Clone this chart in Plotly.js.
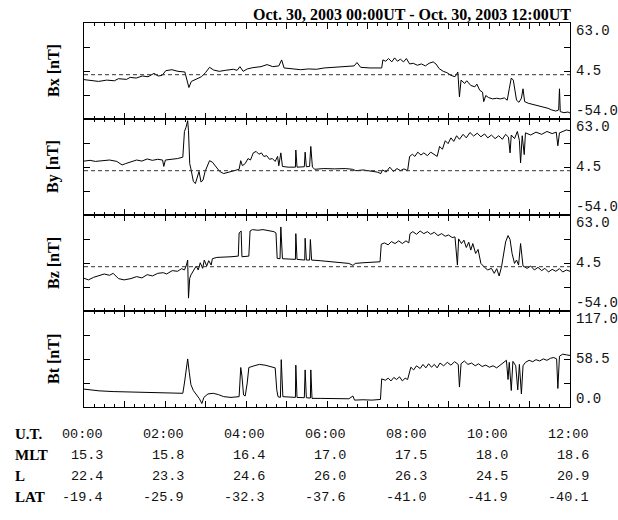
<!DOCTYPE html>
<html>
<head>
<meta charset="utf-8">
<script src="https://cdn.plot.ly/plotly-3.0.1.min.js"></script>
<style>html,body{margin:0;padding:0;background:#fff;}#chart{width:618px;height:520px;}</style>
</head>
<body>
<div id="chart"></div>
<script>
// ---- data (hours since 00:00 UT, nT) ----
const bxTime = [0.00,0.17,0.36,0.56,0.75,0.85,1.05,1.14,1.29,1.44,1.58,1.73,1.83,1.93,2.02,2.17,2.32,2.49,2.54,2.59,2.65,2.76,2.90,3.00,3.10,3.20,3.34,3.49,3.69,3.78,3.85,3.93,4.03,4.17,4.37,4.52,4.66,4.81,4.88,4.94,5.15,5.35,5.54,5.74,5.93,6.18,6.42,6.67,6.74,6.83,7.06,7.35,7.38,7.45,7.52,7.60,7.67,7.74,7.81,7.89,7.96,8.04,8.13,8.23,8.33,8.43,8.52,8.62,8.69,8.77,8.87,8.96,9.06,9.16,9.23,9.27,9.31,9.40,9.45,9.55,9.65,9.70,9.77,9.84,9.87,9.92,9.99,10.09,10.19,10.28,10.38,10.45,10.50,10.55,10.60,10.65,10.68,10.74,10.80,10.84,10.88,10.97,11.07,11.16,11.26,11.36,11.46,11.55,11.65,11.72,11.74,11.76,11.85,11.95,12.00];
const bxValue = [-6,-7.4,-8.2,-6.6,-7.4,-4.9,-5.7,-3.3,-4.1,-1.6,-2.5,1.6,-1.6,-0.8,4.9,6.1,4.1,3.3,-8.2,-15.6,-8.2,-5.7,-2.5,2.5,9,5.7,4.1,5.3,6.6,5.3,9.8,4.1,7,8.6,9.8,12.3,9.8,10.7,18,8.2,7,6.1,7,6.6,8.2,9,9.4,10.7,14.8,9,8.2,8.2,18,16.4,19.7,15.6,20.5,16.4,18.9,15.6,19.7,13.1,13.9,11.5,13.1,10.7,13.9,15.6,13.1,7.4,4.1,2.5,-0.8,-2.5,3.3,-27,-6.6,-10.7,-7.4,-13.1,-14.8,-11.5,-18.9,-21.3,-32.8,-25.4,-27.9,-29.5,-28.7,-29.5,-28.3,-31.1,-17.2,-4.1,-6.6,-20.5,-31.1,-33.6,-28.7,-17.2,-32.8,-34.8,-36.1,-36.9,-38.1,-40.2,-41,-43,-44.3,-43,-17.2,-45,-46.3,-45.5,-46.7];

const byTime = [0.00,0.15,0.28,0.46,0.63,0.81,0.94,1.03,1.16,1.30,1.43,1.56,1.69,1.82,1.94,1.97,2.01,2.18,2.31,2.44,2.48,2.52,2.56,2.58,2.61,2.64,2.70,2.75,2.80,2.84,2.89,2.94,2.99,3.05,3.10,3.17,3.26,3.35,3.45,3.59,3.72,3.83,3.87,3.91,3.98,4.05,4.11,4.18,4.25,4.32,4.38,4.44,4.51,4.58,4.65,4.72,4.78,4.81,4.86,4.90,5.04,5.22,5.23,5.26,5.44,5.46,5.49,5.57,5.60,5.64,5.70,5.92,6.19,6.45,6.63,6.71,6.89,7.07,7.24,7.33,7.37,7.46,7.55,7.64,7.73,7.81,7.90,7.99,8.04,8.11,8.17,8.24,8.32,8.39,8.48,8.56,8.65,8.72,8.78,8.85,8.92,8.99,9.06,9.13,9.20,9.27,9.36,9.44,9.53,9.62,9.71,9.80,9.89,9.97,10.06,10.15,10.24,10.33,10.41,10.48,10.52,10.55,10.63,10.70,10.75,10.78,10.82,10.87,10.90,11.03,11.16,11.30,11.43,11.56,11.66,11.70,11.74,11.82,11.91,12.00];
const byValue = [11.7,12.6,11.3,12.2,13,11.3,7,8.7,10.4,13,11.7,14.3,12.6,13.9,13,5.2,13,13.9,14.8,16.5,47.8,53,60.9,48.7,8.7,2.2,-13,-15.7,-8.7,-0.9,-13.9,-11.3,-0.9,6.1,12.2,10.4,5.2,-0.9,-3.5,-1.3,0,1.7,12.2,6.1,8.7,14.8,13,21.7,23.5,20,21.7,17.4,18.3,13.9,14.8,11.3,17.4,6.1,21.7,5.2,4.3,4.3,25.2,4.3,4.8,22.6,4.8,5.2,29.6,4.3,1.7,2.6,2.2,2.6,1.7,0,0.9,0,-1.7,-3.5,0.9,-1.7,4.3,-0.9,2.6,0,2.2,0,17.4,20,17.4,22.6,19.1,21.7,18.3,22.6,20,17.4,29.6,26.1,36.5,33,40,35.7,42.6,38.3,44.3,40,46.5,42.2,45.7,41.3,44.8,40,43.5,39.1,42.6,38.3,44.3,40.9,21.7,43.5,39.1,47.8,37,9.6,42.6,19.6,46.1,43.5,47,44.3,47.8,45.2,47,30.4,46.1,47.8,49.6,48.7];

const bzTime = [0.00,0.11,0.24,0.37,0.50,0.63,0.72,0.85,0.99,1.16,1.30,1.43,1.56,1.69,1.82,1.96,2.04,2.18,2.31,2.41,2.48,2.53,2.56,2.58,2.61,2.64,2.70,2.77,2.82,2.87,2.93,2.97,3.03,3.08,3.14,3.17,3.28,3.45,3.63,3.81,3.83,3.88,3.90,4.07,4.10,4.16,4.29,4.42,4.56,4.69,4.74,4.77,4.84,4.86,4.90,5.22,5.23,5.26,5.45,5.46,5.49,5.57,5.59,5.62,5.83,6.10,6.36,6.54,6.64,6.70,6.89,7.11,7.31,7.34,7.42,7.51,7.59,7.68,7.77,7.86,7.95,8.02,8.05,8.12,8.21,8.30,8.39,8.48,8.56,8.65,8.74,8.83,8.92,9.00,9.09,9.16,9.22,9.25,9.32,9.38,9.44,9.50,9.55,9.60,9.67,9.73,9.80,9.89,9.97,10.06,10.13,10.19,10.25,10.31,10.36,10.41,10.47,10.52,10.57,10.63,10.68,10.73,10.78,10.84,10.94,11.03,11.12,11.21,11.30,11.38,11.47,11.56,11.65,11.74,11.82,11.91,12.00];
const bzValue = [-14.1,-16.1,-12.9,-11.3,-8.9,-10.5,-8.1,-14.5,-16.1,-14.5,-12.1,-13.7,-9.7,-11.3,-8.1,-7.3,-8.9,-4.8,-5.6,-2.4,-4,2,8.1,-38.3,-14.1,-10.1,-4.8,0.8,-4,4.8,-2,8.1,0.8,7.3,2,9.7,11.3,11.3,12.1,12.9,41.1,43.5,12.1,12.9,43.5,45.2,44.4,45.2,43.5,42.7,41.1,10.1,9.7,48.4,9.7,8.9,40.3,8.9,8.1,34.7,8.1,8.1,33.1,8.1,7.3,6,4.8,4,1.6,4,4.8,5.6,6,27.4,29,26.6,30.6,28.2,31.5,28.2,31.5,29,40.3,42.7,39.5,43.5,40.3,42.7,39.5,41.9,37.9,40.3,37.1,38.7,35.5,36.3,2,33.9,28.2,32.3,23.4,29.8,20.2,28.2,16.1,21,4,-0.8,-4,-2,-8.1,-2.4,-11.3,0,16.1,30.2,37.9,33.1,16.1,4,8.1,2,28.2,0.8,-2,0.8,-4,-0.8,-4.8,-2,-6.5,-3.2,-5.6,-2.4,-6.5,-4,-5.6];

const btTime = [0.00,0.11,0.37,0.72,1.16,1.60,2.04,2.44,2.48,2.53,2.56,2.60,2.64,2.70,2.79,2.85,2.91,2.96,3.06,3.19,3.32,3.45,3.63,3.83,3.87,3.90,3.94,3.98,4.03,4.07,4.20,4.33,4.47,4.60,4.72,4.76,4.79,4.85,4.87,4.91,5.22,5.23,5.26,5.44,5.46,5.49,5.59,5.60,5.63,5.83,6.19,6.54,6.64,6.68,6.89,7.11,7.32,7.35,7.44,7.51,7.58,7.65,7.72,7.79,7.86,7.93,7.99,8.07,8.14,8.21,8.30,8.37,8.44,8.51,8.58,8.65,8.72,8.79,8.88,8.97,9.06,9.15,9.24,9.27,9.31,9.39,9.48,9.57,9.66,9.74,9.83,9.92,10.01,10.10,10.19,10.27,10.36,10.43,10.47,10.50,10.55,10.59,10.66,10.71,10.75,10.80,10.84,10.90,10.99,11.08,11.16,11.25,11.34,11.43,11.52,11.60,11.67,11.70,11.74,11.82,11.91,12.00];
const btValue = [21.8,20.9,19.7,18.8,18.4,18,17.6,16.7,29.3,50.2,58.6,41.8,27.2,20.1,14.6,10,4.2,11.7,15.9,16.7,15.1,12.6,11.7,12.6,48.1,37.7,14.6,13.4,29.3,48.1,50.2,51.9,51,49.4,47.7,20.9,12.6,11.7,57.7,12.6,11.7,51,11.7,11.3,45.2,11.3,10.9,45.2,10.5,10.5,10,10,13.4,8.4,8.8,8.4,9.2,34.3,32.6,35.1,31.8,36,33.5,36.8,31.8,35.1,33.5,48.5,45.2,50.2,46.9,51.9,47.7,52.7,48.5,51.9,47.7,53.6,50.2,54.4,51,55.2,51.9,24.3,52.7,56.1,51.9,53.6,50.2,52.7,49.4,51,48.5,50.2,47.7,51,54.4,56.9,33.5,54.4,20.1,55.6,50.2,20.9,51.9,15.9,50.2,54.4,56.9,55.2,57.7,56.1,58.6,56.9,59.4,60.3,58.6,22.6,61.9,64.4,63.6,62.8];

// ---- labels ----
const panelTitles = ['Bx [nT]', 'By [nT]', 'Bz [nT]', 'Bt [nT]'];
const compTickLabels = ['63.0', '4.5', '-54.0'];
const totalTickLabels = ['117.0', '58.5', '0.0'];
const mainTitle = 'Oct. 30, 2003 00:00UT - Oct. 30, 2003 12:00UT';
const tableHours = [0, 2, 4, 6, 8, 10, 12];
const utLabels = ['00:00', '02:00', '04:00', '06:00', '08:00', '10:00', '12:00'];
const mltValues = ['15.3', '15.8', '16.4', '17.0', '17.5', '18.0', '18.6'];
const lValues = ['22.4', '23.3', '24.6', '26.0', '26.3', '24.5', '20.9'];
const latValues = ['-19.4', '-25.9', '-32.3', '-37.6', '-41.0', '-41.9', '-40.1'];
const rowNames = ['U.T.', 'MLT', 'L', 'LAT'];

// ---- build ----
const series = [[bxTime, bxValue], [byTime, byValue], [bzTime, bzValue], [btTime, btValue]];
const serif = 'Liberation Serif, Times New Roman, serif';
const mono = 'Liberation Mono, Courier New, monospace';

const traces = series.map((s, i) => ({
  x: s[0], y: s[1], type: 'scatter', mode: 'lines',
  line: {color: '#000', width: 1},
  xaxis: i === 0 ? 'x' : 'x' + (i + 1),
  yaxis: i === 0 ? 'y' : 'y' + (i + 1),
  hoverinfo: 'skip', showlegend: false
}));

const layout = {
  width: 618, height: 520,
  margin: {l: 84, r: 48, t: 23, b: 113, pad: 0},
  paper_bgcolor: '#fff', plot_bgcolor: '#fff',
  showlegend: false,
  annotations: [], shapes: []
};

for (let i = 0; i < 4; i++) {
  const sfx = i === 0 ? '' : String(i + 1);
  const top = 1 - i * 0.25, bot = top - 0.25;
  const isTotal = i === 3;
  const yr = isTotal ? [0, 117] : [-54, 63];
  const q = (yr[1] - yr[0]) / 4;
  layout['xaxis' + sfx] = {
    domain: [0, 1], anchor: 'y' + sfx, range: [0, 12],
    tickmode: 'linear', tick0: 0, dtick: 1, ticks: 'inside', ticklen: 6,
    tickcolor: '#000', tickwidth: 1,
    minor: {tickmode: 'linear', tick0: 0, dtick: 0.25, ticks: 'inside', ticklen: 3, tickcolor: '#000', tickwidth: 1, showgrid: false},
    showticklabels: false, showgrid: false, zeroline: false,
    showline: true, linecolor: '#000', linewidth: 1, mirror: 'allticks',
    fixedrange: true
  };
  layout['yaxis' + sfx] = {
    domain: [bot, top], anchor: 'x' + sfx, range: yr,
    tickmode: 'array', tickvals: [yr[0] + q, yr[0] + 2 * q, yr[0] + 3 * q],
    ticks: 'inside', ticklen: 6, tickcolor: '#000', tickwidth: 1,
    showticklabels: false, showgrid: false, zeroline: false,
    showline: true, linecolor: '#000', linewidth: 1, mirror: 'allticks',
    fixedrange: true
  };
  if (!isTotal) {
    layout.shapes.push({type: 'line', xref: 'paper', x0: 0, x1: 1, yref: 'y' + sfx, y0: 0, y1: 0,
      line: {color: '#333', width: 1, dash: '4px,3px'}});
  }
  const labs = isTotal ? totalTickLabels : compTickLabels;
  const shifts = [-8, 0, 8];
  const ys = [top, (top + bot) / 2, bot];
  labs.forEach((t, k) => layout.annotations.push({
    text: t, xref: 'paper', yref: 'paper', x: 1, y: ys[k], xanchor: 'left', yanchor: 'middle',
    xshift: 4, yshift: shifts[k], showarrow: false, font: {family: mono, size: 14, color: '#111'}
  }));
  layout.annotations.push({
    text: '<b>' + panelTitles[i] + '</b>', xref: 'paper', yref: 'paper', x: 0, y: (top + bot) / 2,
    xanchor: 'center', yanchor: 'middle', xshift: -31, textangle: -90, showarrow: false,
    font: {family: serif, size: 16, color: '#000'}
  });
}

layout.annotations.push({
  text: '<b>' + mainTitle + '</b>', xref: 'paper', yref: 'paper', x: 1, y: 1,
  xanchor: 'right', yanchor: 'bottom', xshift: 3, yshift: -2, showarrow: false,
  font: {family: serif, size: 16, color: '#000'}
});

const rows = [utLabels, mltValues, lValues, latValues];
const rowY = [27, 48, 69, 90];
rows.forEach((vals, r) => {
  layout.annotations.push({
    text: '<b>' + rowNames[r] + '</b>', xref: 'paper', yref: 'paper', x: 0, y: 0,
    xanchor: 'left', yanchor: 'middle', xshift: -71, yshift: -rowY[r], showarrow: false,
    font: {family: serif, size: 15, color: '#000'}
  });
  vals.forEach((v, c) => layout.annotations.push({
    text: v, xref: 'x4', yref: 'paper', x: tableHours[c], y: 0,
    xanchor: 'right', yanchor: 'middle', xshift: 21, yshift: -rowY[r], showarrow: false,
    font: {family: mono, size: 13.5, color: '#111'}
  }));
});

Plotly.newPlot('chart', traces, layout, {staticPlot: true, displayModeBar: false});
</script>
</body>
</html>
